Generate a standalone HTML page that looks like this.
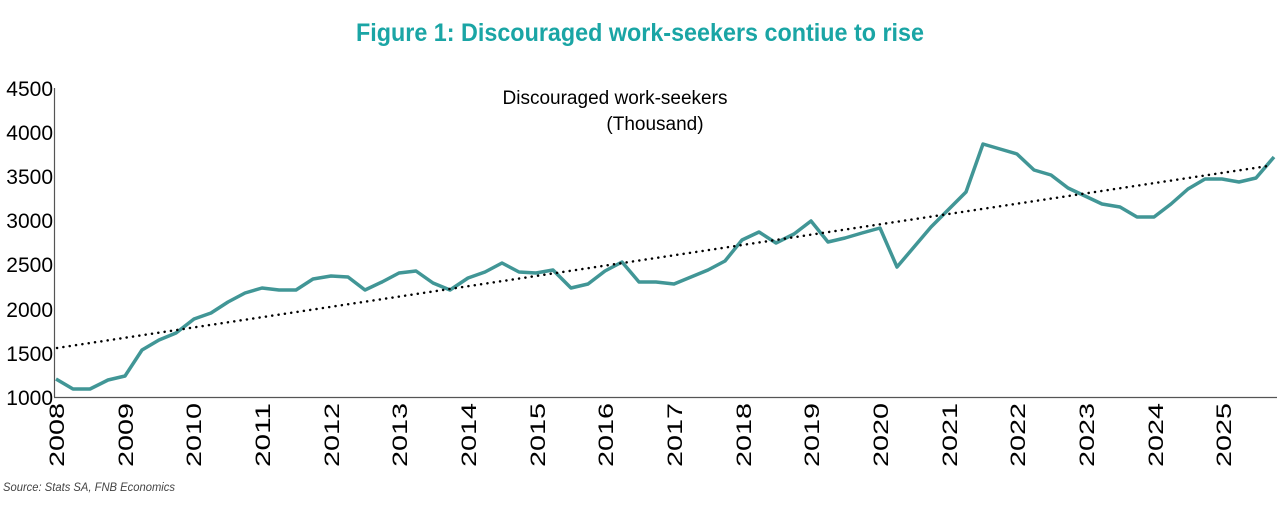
<!DOCTYPE html>
<html><head><style>
body{margin:0;background:#fff;width:1280px;height:520px;overflow:hidden;font-family:"Liberation Sans",sans-serif}
</style></head><body>
<svg width="1280" height="520" xmlns="http://www.w3.org/2000/svg" font-family="Liberation Sans, sans-serif">
<text x="640" y="41" text-anchor="middle" font-size="25" font-weight="bold" fill="#1aa5a5" textLength="568" lengthAdjust="spacingAndGlyphs">Figure 1: Discouraged work-seekers contiue to rise</text>
<text x="615" y="104" text-anchor="middle" font-size="19" fill="#000">Discouraged work-seekers</text>
<text x="655" y="130" text-anchor="middle" font-size="19" fill="#000">(Thousand)</text>
<g font-size="21" fill="#000" text-anchor="end">
<text x="53" y="405">1000</text><text x="53" y="361">1500</text><text x="53" y="317">2000</text><text x="53" y="272">2500</text><text x="53" y="228">3000</text><text x="53" y="184">3500</text><text x="53" y="140">4000</text><text x="53" y="96">4500</text>
</g>
<line x1="54.5" y1="88" x2="54.5" y2="397" stroke="#555" stroke-width="1.2"/>
<line x1="54" y1="397.5" x2="1277" y2="397.5" stroke="#555" stroke-width="1.2"/>
<g font-size="21" fill="#000" text-anchor="end">
<text transform="translate(64,403) rotate(-90)" textLength="64" lengthAdjust="spacingAndGlyphs">2008</text>
<text transform="translate(133,403) rotate(-90)" textLength="64" lengthAdjust="spacingAndGlyphs">2009</text>
<text transform="translate(201,403) rotate(-90)" textLength="64" lengthAdjust="spacingAndGlyphs">2010</text>
<text transform="translate(270,403) rotate(-90)" textLength="64" lengthAdjust="spacingAndGlyphs">2011</text>
<text transform="translate(339,403) rotate(-90)" textLength="64" lengthAdjust="spacingAndGlyphs">2012</text>
<text transform="translate(407,403) rotate(-90)" textLength="64" lengthAdjust="spacingAndGlyphs">2013</text>
<text transform="translate(476,403) rotate(-90)" textLength="64" lengthAdjust="spacingAndGlyphs">2014</text>
<text transform="translate(545,403) rotate(-90)" textLength="64" lengthAdjust="spacingAndGlyphs">2015</text>
<text transform="translate(613,403) rotate(-90)" textLength="64" lengthAdjust="spacingAndGlyphs">2016</text>
<text transform="translate(682,403) rotate(-90)" textLength="64" lengthAdjust="spacingAndGlyphs">2017</text>
<text transform="translate(751,403) rotate(-90)" textLength="64" lengthAdjust="spacingAndGlyphs">2018</text>
<text transform="translate(819,403) rotate(-90)" textLength="64" lengthAdjust="spacingAndGlyphs">2019</text>
<text transform="translate(888,403) rotate(-90)" textLength="64" lengthAdjust="spacingAndGlyphs">2020</text>
<text transform="translate(957,403) rotate(-90)" textLength="64" lengthAdjust="spacingAndGlyphs">2021</text>
<text transform="translate(1025,403) rotate(-90)" textLength="64" lengthAdjust="spacingAndGlyphs">2022</text>
<text transform="translate(1094,403) rotate(-90)" textLength="64" lengthAdjust="spacingAndGlyphs">2023</text>
<text transform="translate(1163,403) rotate(-90)" textLength="64" lengthAdjust="spacingAndGlyphs">2024</text>
<text transform="translate(1231,403) rotate(-90)" textLength="64" lengthAdjust="spacingAndGlyphs">2025</text>
</g>
<polyline fill="none" stroke="#419696" stroke-width="3.5" stroke-linejoin="round" points="56,379 73,389 90,389 108,380 125,376 142,350 159,340 176,333 194,319 211,313 228,302 245,293 262,288 279,290 296,290 313,279 331,276 348,277 365,290 382,282 399,273 416,271 433,283 450,290 468,278 485,272 502,263 519,272 536,273 553,270 571,288 588,284 605,271 622,262 639,282 656,282 674,284 691,277 708,270 725,261 742,240 759,232 776,243 794,234 811,221 828,242 845,238 862,233 880,228 897,267 914,247 931,227 948,210 966,192 983,144 1000,149 1017,154 1034,170 1051,175 1068,188 1085,196 1102,204 1120,207 1137,217 1154,217 1171,204 1188,189 1205,179 1222,179 1239,182 1256,178 1274,157"/>
<line x1="57" y1="348" x2="1268" y2="166" stroke="#000" stroke-width="2.5" stroke-dasharray="0.1 6.3" stroke-linecap="round"/>
<text x="3" y="491" font-size="12" font-style="italic" fill="#444" textLength="172" lengthAdjust="spacingAndGlyphs">Source: Stats SA, FNB Economics</text>
</svg>
</body></html>
